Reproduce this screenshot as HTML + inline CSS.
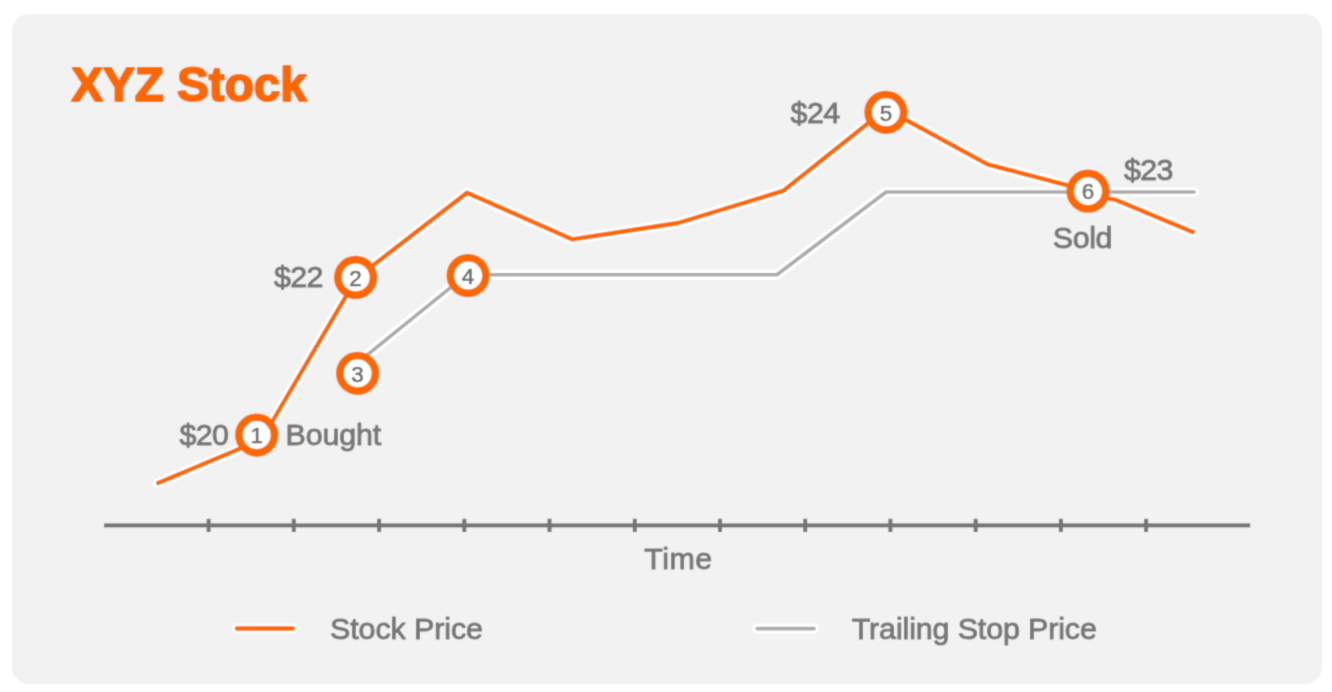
<!DOCTYPE html>
<html lang="en">
<head>
<meta charset="utf-8">
<title>XYZ Stock - Trailing Stop</title>
<style>
  html, body { margin: 0; padding: 0; background: #ffffff; }
  body { width: 1332px; height: 692px; overflow: hidden; position: relative; }
  svg { position: absolute; left: 0; top: 0; display: block; }
  text { font-family: "Liberation Sans", sans-serif; }
  .lbl { font-size: 30.4px; fill: #787878; stroke: #787878; stroke-width: 1px; stroke-linejoin: round; }
  .num { font-size: 22.4px; fill: #6e6e6e; stroke: #6e6e6e; stroke-width: 0.6px; text-anchor: middle; }
  .title { font-size: 48.6px; font-weight: bold; fill: #ff6803; stroke: #ff6803; stroke-width: 2px; stroke-linejoin: round; }
  .halo { fill: none; stroke: #ffffff; stroke-width: 10.2; stroke-linecap: round; stroke-linejoin: round; }
  .oline { fill: none; stroke: #ff6803; stroke-width: 4.3; stroke-linecap: round; stroke-linejoin: round; }
  .gline { fill: none; stroke: #ababab; stroke-width: 3.6; stroke-linecap: round; stroke-linejoin: miter; }
  .ring { fill: #ffffff; stroke: #ff6803; stroke-width: 7.6; }
  .axis { fill: #757575; }
</style>
</head>
<body>
<svg width="1332" height="692" viewBox="0 0 1332 692">
  <defs>
    <filter id="soft" filterUnits="userSpaceOnUse" x="0" y="0" width="1332" height="692">
      <feConvolveMatrix order="3" kernelMatrix="0.0324 0.1152 0.0324 0.1152 0.4096 0.1152 0.0324 0.1152 0.0324" edgeMode="duplicate" preserveAlpha="false"/>
    </filter>
  </defs>

  <g filter="url(#soft)">
  <!-- card -->
  <rect x="12" y="14" width="1310" height="670" rx="17" ry="17" fill="#f2f2f2"/>

  <!-- title -->
  <text class="title" x="71.2" y="101.2" textLength="235.6" lengthAdjust="spacingAndGlyphs">XYZ Stock</text>

  <!-- axis -->
  <g class="axis">
    <rect x="104" y="523.4" width="1146.2" height="4"/>
    <rect x="206.6" y="518.8" width="4" height="13.2"/>
    <rect x="291.8" y="518.8" width="4" height="13.2"/>
    <rect x="377.1" y="518.8" width="4" height="13.2"/>
    <rect x="462.3" y="518.8" width="4" height="13.2"/>
    <rect x="547.5" y="518.8" width="4" height="13.2"/>
    <rect x="632.8" y="518.8" width="4" height="13.2"/>
    <rect x="718.0" y="518.8" width="4" height="13.2"/>
    <rect x="803.2" y="518.8" width="4" height="13.2"/>
    <rect x="888.4" y="518.8" width="4" height="13.2"/>
    <rect x="973.7" y="518.8" width="4" height="13.2"/>
    <rect x="1058.9" y="518.8" width="4" height="13.2"/>
    <rect x="1144.1" y="518.8" width="4" height="13.2"/>
  </g>
  <text class="lbl" x="644.2" y="569" textLength="68" lengthAdjust="spacing">Time</text>

  <!-- trailing stop line -->
  <polyline class="halo" points="352.4,366.9 466.5,274.7 777,274.7 886,192 1194,192"/>
  <polyline class="gline" points="352.4,366.9 466.5,274.7 777,274.7 886,192 1194,192"/>

  <!-- stock price line -->
  <polyline class="halo" points="158.2,483.1 261.7,439.5 356.8,277.9 467,192.7 572.1,239.3 678.1,223 783.1,190.9 886,109 987.7,164.4 1088,190.6 1109,198.6 1115,199.6 1192.8,232"/>
  <polyline class="oline" points="158.2,483.1 261.7,439.5 356.8,277.9 467,192.7 572.1,239.3 678.1,223 783.1,190.9 886,109 987.7,164.4 1088,190.6 1109,198.6 1115,199.6 1192.8,232"/>

  <!-- markers -->
  <circle class="ring" cx="256.7" cy="435.1" r="17.8"/>
  <circle class="ring" cx="355.6" cy="277.4" r="17.8"/>
  <circle class="ring" cx="357.6" cy="373.3" r="17.8"/>
  <circle class="ring" cx="468.1" cy="275.6" r="17.8"/>
  <circle class="ring" cx="885.9" cy="112.3" r="17.8"/>
  <circle class="ring" cx="1088" cy="191.2" r="17.8"/>
  <text class="num" x="256.7" y="443.3">1</text>
  <text class="num" x="355.6" y="285.6">2</text>
  <text class="num" x="357.6" y="381.5">3</text>
  <text class="num" x="468.1" y="283.8">4</text>
  <text class="num" x="885.9" y="120.5">5</text>
  <text class="num" x="1088.0" y="199.4">6</text>

  <!-- price / action labels -->
  <text class="lbl" x="179.4" y="445" textLength="49.5" lengthAdjust="spacing">$20</text>
  <text class="lbl" x="285.6" y="445.2" textLength="95.6" lengthAdjust="spacing">Bought</text>
  <text class="lbl" x="274.0" y="287.4" textLength="49.5" lengthAdjust="spacing">$22</text>
  <text class="lbl" x="790.6" y="122.6" textLength="49.5" lengthAdjust="spacing">$24</text>
  <text class="lbl" x="1124.0" y="180.3" textLength="49.5" lengthAdjust="spacing">$23</text>
  <text class="lbl" x="1052.8" y="248.2" textLength="59.6" lengthAdjust="spacing">Sold</text>

  <!-- legend -->
  <line class="halo" x1="236.8" y1="628.5" x2="292.8" y2="628.5"/>
  <line class="oline" x1="236.8" y1="628.5" x2="292.8" y2="628.5"/>
  <text class="lbl" x="330" y="638.9" textLength="153" lengthAdjust="spacing">Stock Price</text>

  <line class="halo" x1="757.2" y1="628.6" x2="814" y2="628.6"/>
  <line class="gline" x1="757.2" y1="628.6" x2="814" y2="628.6"/>
  <text class="lbl" x="851.8" y="638.9" textLength="245" lengthAdjust="spacing">Trailing Stop Price</text>
  </g>
</svg>
</body>
</html>
